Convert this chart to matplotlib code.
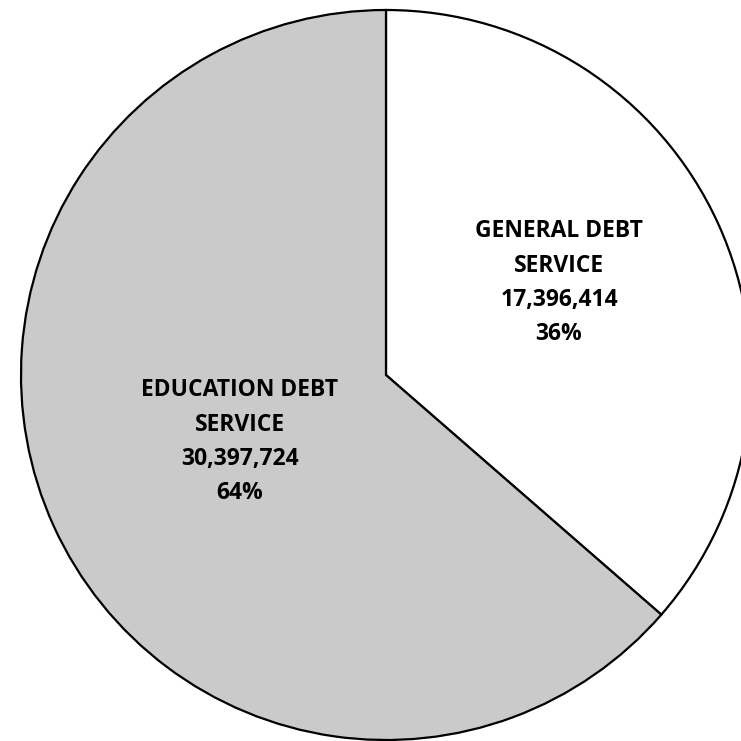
import matplotlib
matplotlib.use("Agg")
import matplotlib.pyplot as plt

# Debt service split
categories = ["GENERAL DEBT\nSERVICE", "EDUCATION DEBT\nSERVICE"]
amounts = [17396414, 30397724]
percents = [36, 64]
colors = ["#ffffff", "#cacaca"]

# label block centres (data coords of the unit pie)
label_xy = [(0.474, 0.253), (-0.400, -0.183)]

fig = plt.figure(figsize=(7.41, 7.41), dpi=100)
ax = fig.add_axes([0, 0, 1, 1])
ax.set_aspect("equal")

ax.pie(amounts, colors=colors, startangle=90, counterclock=False,
       radius=1.0, center=(0, 0),
       wedgeprops=dict(edgecolor="black", linewidth=1.6))

ax.set_xlim(-1.0575, 0.9726)
ax.set_ylim(-1.0027, 1.0274)
ax.axis("off")

line_step = 0.094
for cat, amt, pct, (cx, cy) in zip(categories, amounts, percents, label_xy):
    lines = cat.split("\n") + [f"{amt:,}", f"{pct}%"]
    n = len(lines)
    top = cy + (n - 1) / 2 * line_step
    for i, line in enumerate(lines):
        ax.text(cx, top - i * line_step, line, ha="center", va="center",
                fontsize=16.5, fontweight="bold", family="Open Sans", color="black")

fig.savefig("out.png", dpi=100)
